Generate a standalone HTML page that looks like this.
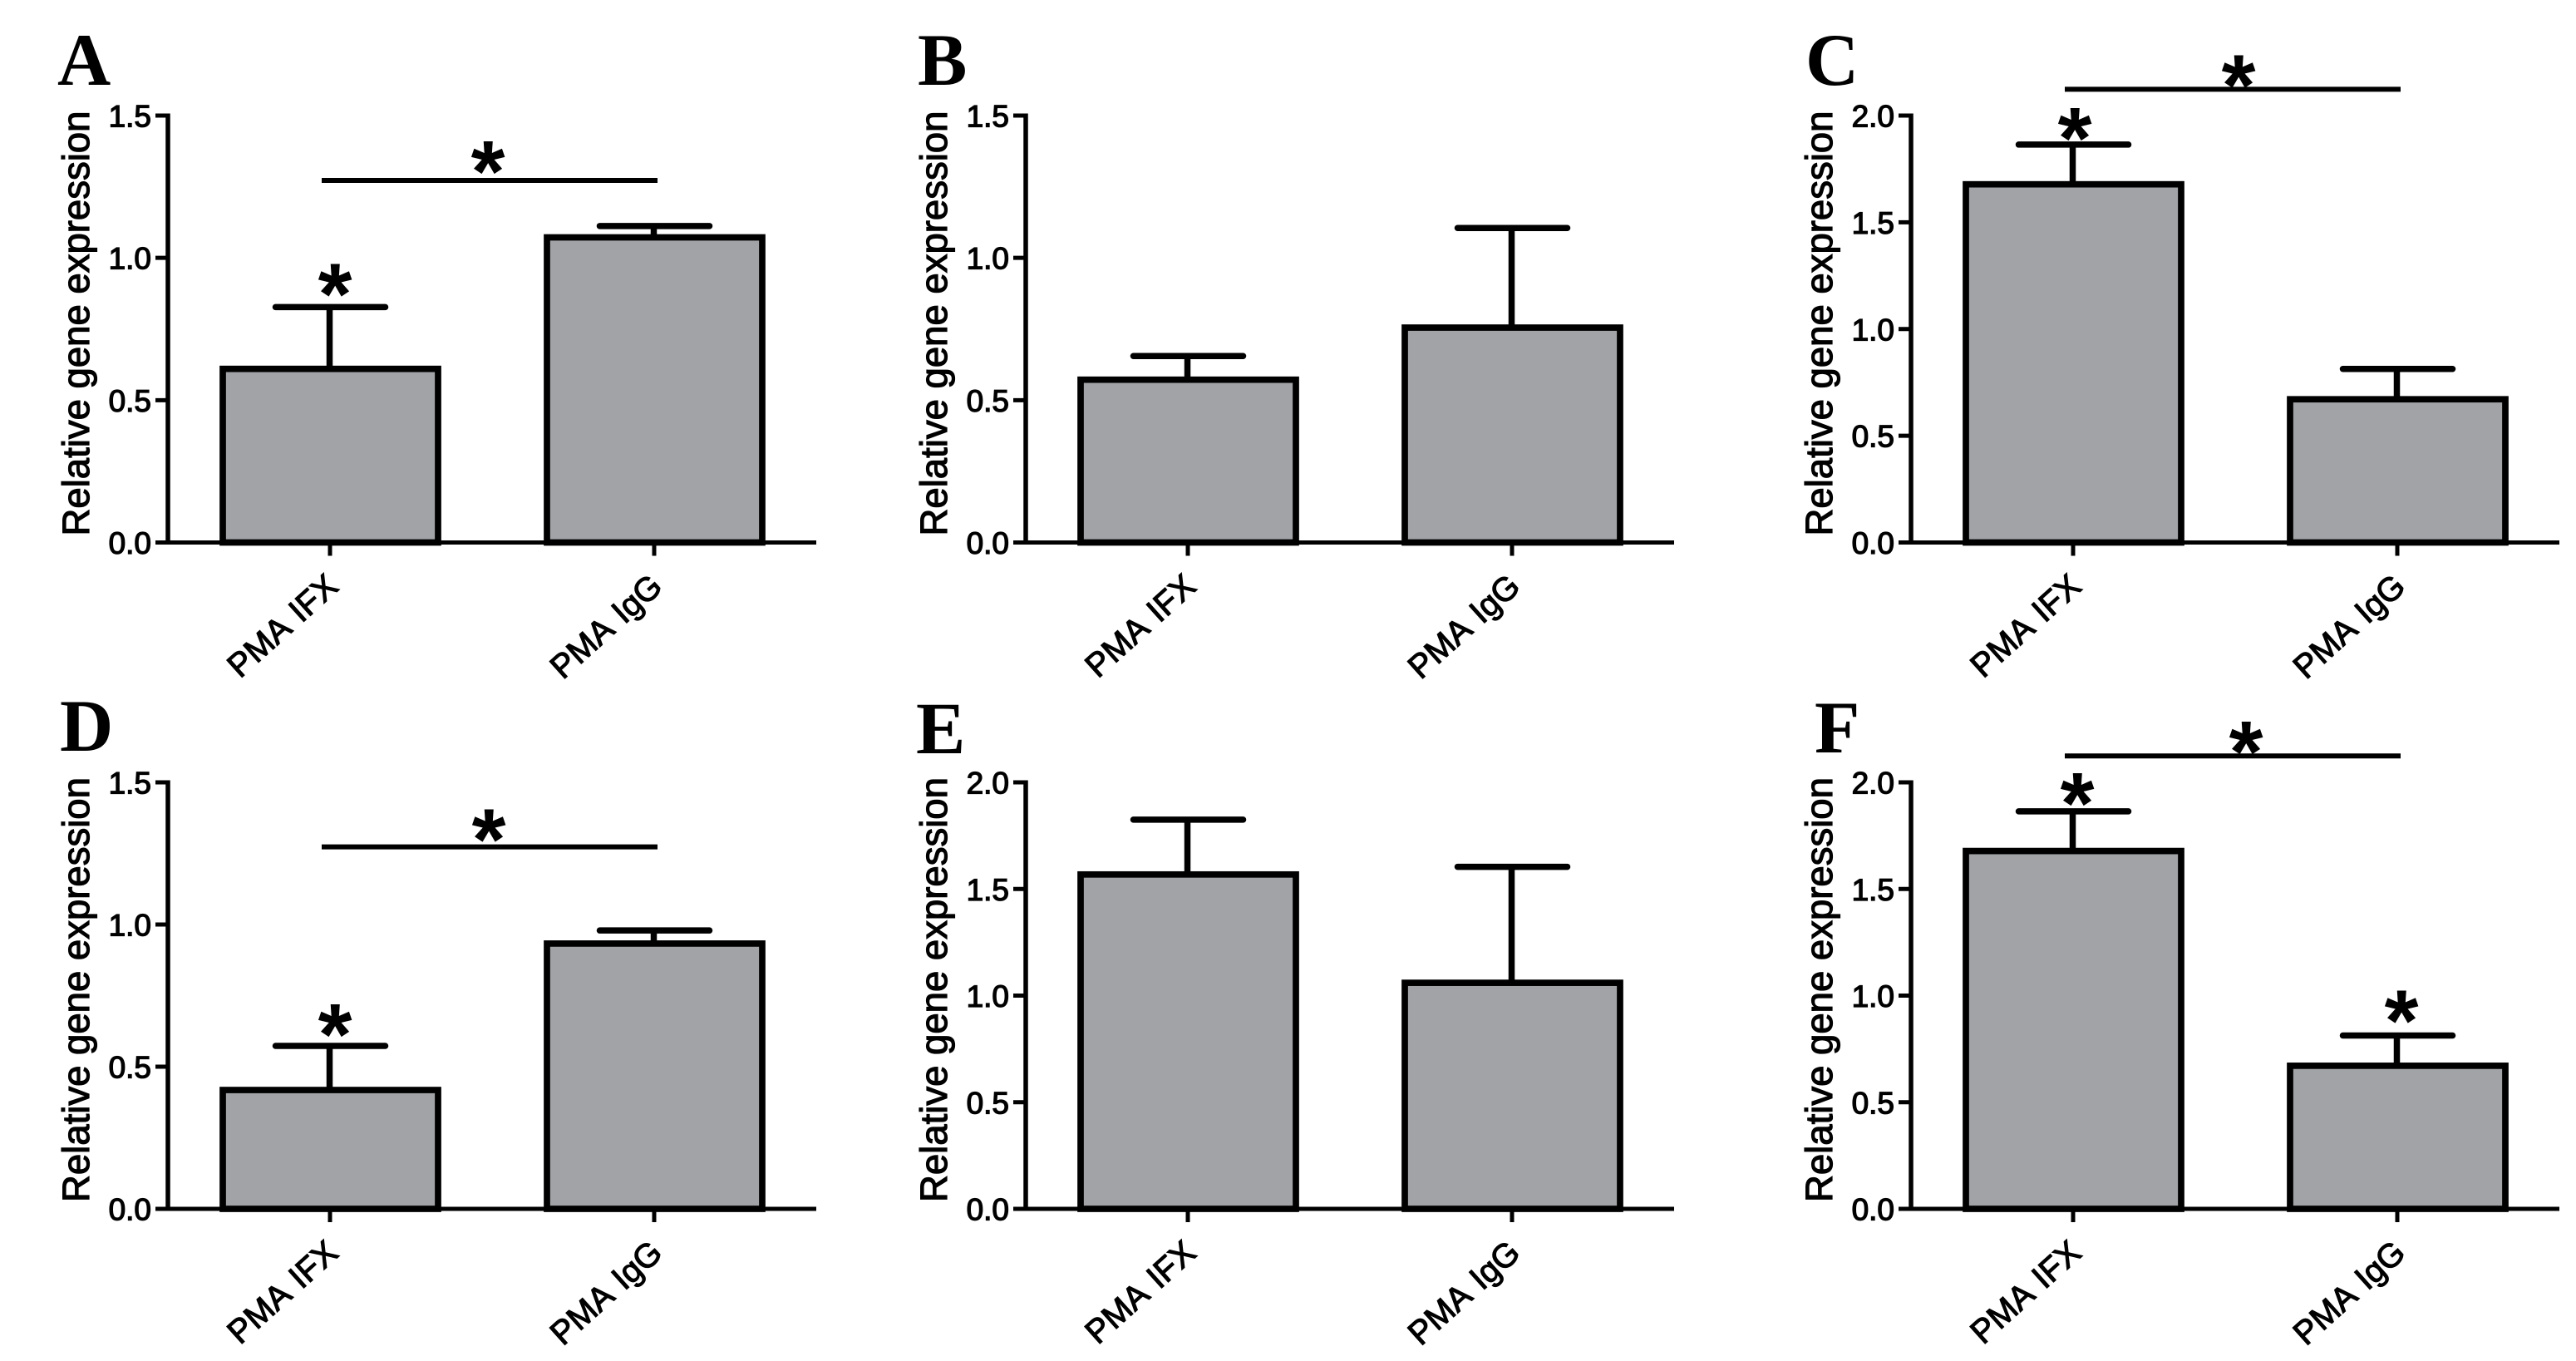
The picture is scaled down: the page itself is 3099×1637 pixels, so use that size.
<!DOCTYPE html>
<html lang="en">
<head>
<meta charset="utf-8">
<title>Relative gene expression panels</title>
<style>
html,body{margin:0;padding:0;background:#fff;}
svg{display:block;}
.tick-text{font-family:"Liberation Sans",sans-serif;font-size:37px;fill:#000;stroke:#000;stroke-width:1.3px;}
.y-title{font-family:"Liberation Sans",sans-serif;font-size:45.5px;fill:#000;stroke:#000;stroke-width:1.2px;}
.cat-text{font-family:"Liberation Sans",sans-serif;font-size:40px;word-spacing:4px;fill:#000;stroke:#000;stroke-width:1.2px;}
.letter{font-family:"Liberation Serif",serif;font-weight:bold;font-size:89px;fill:#000;}
.star{font-family:"Liberation Sans",sans-serif;font-weight:bold;font-size:105px;fill:#000;}
</style>
</head>
<body>
<svg id="fig" xmlns="http://www.w3.org/2000/svg" width="3099" height="1637" viewBox="0 0 3099 1637"></svg>
<script>
// ---- data ----
const categories = ['PMA IFX', 'PMA IgG'];
const yTitle = 'Relative gene expression';
const ticks15 = [0, 0.5, 1.0, 1.5];
const ticks20 = [0, 0.5, 1.0, 1.5, 2.0];
const tickLabels15 = ['0.0', '0.5', '1.0', '1.5'];
const tickLabels20 = ['0.0', '0.5', '1.0', '1.5', '2.0'];

const meansA = [0.610, 1.072];
const upperA = [0.827, 1.112];
const meansB = [0.572, 0.755];
const upperB = [0.655, 1.105];
const meansC = [1.678, 0.671];
const upperC = [1.864, 0.813];
const meansD = [0.418, 0.933];
const upperD = [0.573, 0.979];
const meansE = [1.568, 1.060];
const upperE = [1.825, 1.604];
const meansF = [1.678, 0.671];
const upperF = [1.864, 0.813];

const bracketA = 1.272;
const bracketC = 2.123;
const bracketD = 1.273;
const bracketF = 2.124;

// ---- drawing ----
const NS = 'http://www.w3.org/2000/svg';
const svg = document.getElementById('fig');
const INK = '#000';
const BAR_FILL = '#a2a3a6';

function make(parent, tag, props, txt) {
  const node = document.createElementNS(NS, tag);
  for (const k in props) node.setAttribute(k, props[k]);
  if (txt !== undefined) node.textContent = txt;
  parent.appendChild(node);
  return node;
}

function drawStar(g, cx, cy) {
  const s = make(g, 'text', {class: 'star', x: cx, y: cy + 50, 'text-anchor': 'middle'}, '*');
  
  
}

function drawPanel(letter, letterX, letterY, axisX, top, base, yMax, ticks, labels, means, upper, bracket, bracketStar, barStars) {
  const g = make(svg, 'g', {});
  
  

  const yScale = v => base - (v / yMax) * (base - top);
  const xScale = i => axisX + 195 + i * 390;

  const lt = make(g, 'text', {class: 'letter', x: letterX, y: letterY}, letter);
  
  

  // bars
  means.forEach((m, i) => {
    const cx = xScale(i) + 0.5;
    const capY = yScale(upper[i]);
    const barY = yScale(m);

    const stem = make(g, 'line', {x1: cx - 1, x2: cx - 1, y1: capY, y2: barY, stroke: INK, 'stroke-width': 7.5});
    
    

    const cap = make(g, 'line', {x1: cx - 66, x2: cx + 66, y1: capY, y2: capY, stroke: INK, 'stroke-width': 7.5, 'stroke-linecap': 'round'});
    
    

    const bar = make(g, 'rect', {x: cx - 129.5, y: barY, width: 259, height: base - barY, fill: BAR_FILL, stroke: INK, 'stroke-width': 7.7});
    
    
  });

  // y axis
  const yAxis = make(g, 'line', {x1: axisX, x2: axisX, y1: top - 2.5, y2: base + 2.5, stroke: INK, 'stroke-width': 5.5});
  
  

  ticks.forEach((t, i) => {
    const y = yScale(t);
    const tk = make(g, 'line', {x1: axisX - 15, x2: axisX + 2, y1: y, y2: y, stroke: INK, 'stroke-width': 5});
    
    
    const tl = make(g, 'text', {class: 'tick-text', x: axisX - 20, y: y + 13.5, 'text-anchor': 'end'}, labels[i]);
    
    
  });

  const yt = make(g, 'text', {class: 'y-title', transform: 'translate(' + (axisX - 95) + ',' + (base - 8) + ') rotate(-90)'}, yTitle);
  
  

  // x axis
  const xAxis = make(g, 'line', {x1: axisX - 15, x2: axisX + 780, y1: base, y2: base, stroke: INK, 'stroke-width': 5});
  
  

  categories.forEach((c, i) => {
    const x = xScale(i);
    const tk = make(g, 'line', {x1: x, x2: x, y1: base, y2: base + 16, stroke: INK, 'stroke-width': 5});
    
    
    const cl = make(g, 'text', {class: 'cat-text', 'text-anchor': 'end', transform: 'translate(' + (x + 12) + ',' + (base + 56) + ') rotate(-42)'}, c);
    
    
  });

  // significance bracket between groups
  if (bracket !== null) {
    const by = yScale(bracket);
    const line = make(g, 'line', {x1: xScale(0) - 10, x2: xScale(1) + 4, y1: by, y2: by, stroke: INK, 'stroke-width': 6});
    
    
    drawStar(g, xScale(0) + bracketStar[0], by + bracketStar[1]);
  }
  barStars.forEach(st => {
    drawStar(g, xScale(st[0]) + st[1], yScale(upper[st[0]]) + st[2]);
  });
}

drawPanel('A', 69, 102, 202, 139, 652.5, 1.5, ticks15, tickLabels15, meansA, upperA, bracketA, [190, -25], [[0, 6, -30]]);
drawPanel('B', 1104, 102, 1234, 139, 652.5, 1.5, ticks15, tickLabels15, meansB, upperB, null, null, []);
drawPanel('C', 2172, 102, 2299, 139, 652.5, 2, ticks20, tickLabels20, meansC, upperC, bracketC, [199, -19], [[0, 2, -22]]);
drawPanel('D', 72, 903, 202, 941, 1454, 1.5, ticks15, tickLabels15, meansD, upperD, bracketD, [191, -23], [[0, 6, -28]]);
drawPanel('E', 1102, 906, 1234, 941, 1454, 2, ticks20, tickLabels20, meansE, upperE, null, null, []);
drawPanel('F', 2183, 905, 2299, 941, 1454, 2, ticks20, tickLabels20, meansF, upperF, bracketF, [208, -19], [[0, 5, -24], [1, 5, -32]]);
</script>
</body>
</html>
